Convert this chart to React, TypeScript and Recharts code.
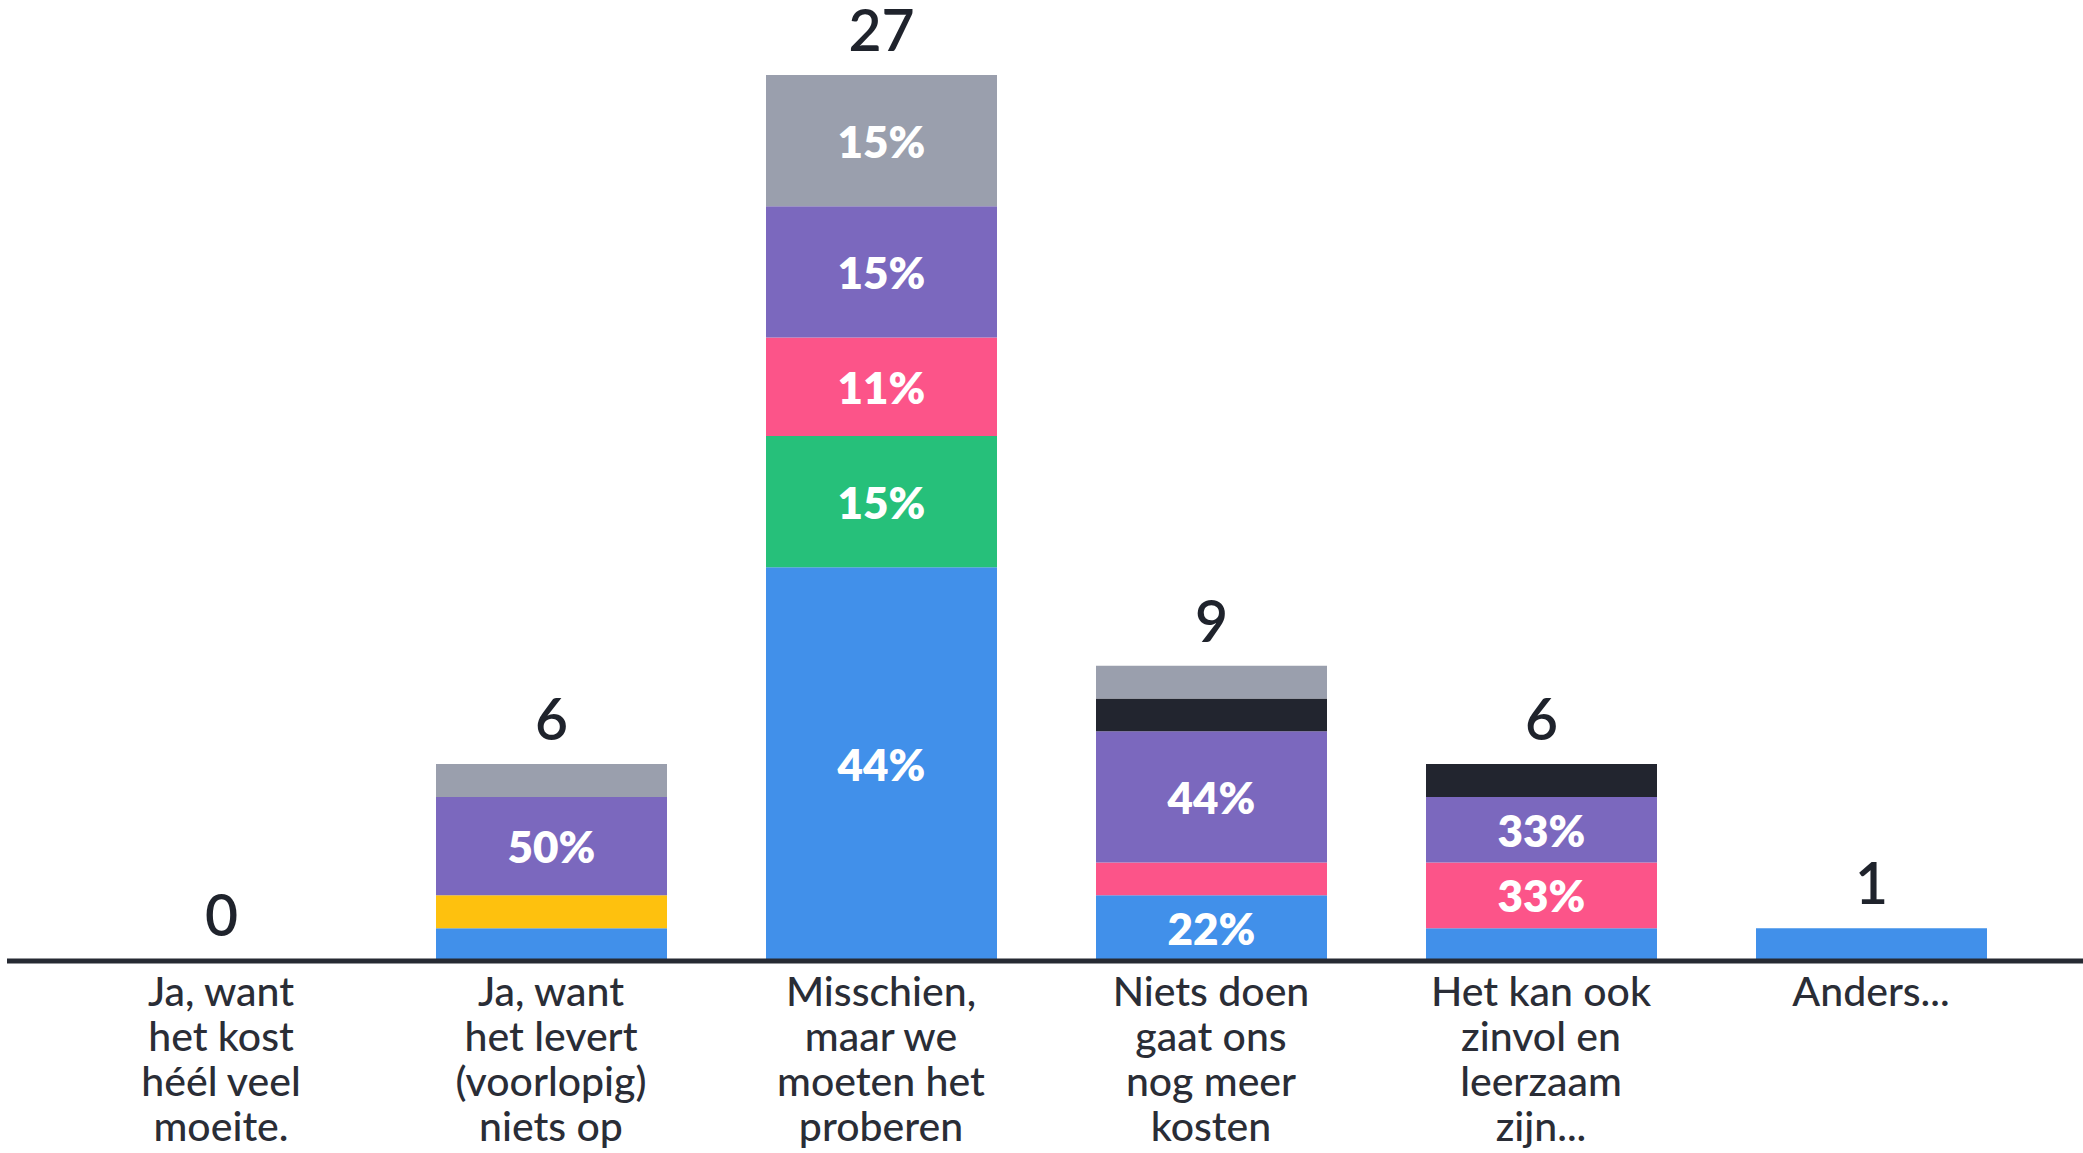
import React from 'react';
import { BarChart, Bar, XAxis, YAxis, LabelList } from 'recharts';

const categories = [
  'Ja, want het kost héél veel moeite.',
  'Ja, want het levert (voorlopig) niets op',
  'Misschien, maar we moeten het proberen',
  'Niets doen gaat ons nog meer kosten',
  'Het kan ook zinvol en leerzaam zijn...',
  'Anders...',
];

const tickLines = [
  ['Ja, want', 'het kost', 'héél veel', 'moeite.'],
  ['Ja, want', 'het levert', '(voorlopig)', 'niets op'],
  ['Misschien,', 'maar we', 'moeten het', 'proberen'],
  ['Niets doen', 'gaat ons', 'nog meer', 'kosten'],
  ['Het kan ook', 'zinvol en', 'leerzaam', 'zijn...'],
  ['Anders...'],
];

// votes per segment, bottom to top
const blue = [0, 1, 12, 2, 1, 1];
const yellow = [0, 1, 0, 0, 0, 0];
const green = [0, 0, 4, 0, 0, 0];
const pink = [0, 0, 3, 1, 2, 0];
const purple = [0, 3, 4, 4, 2, 0];
const dark = [0, 0, 0, 1, 1, 0];
const gray = [0, 1, 4, 1, 0, 0];

const series = [
  { key: 'blue', values: blue, color: '#4190EA' },
  { key: 'yellow', values: yellow, color: '#FEC10E' },
  { key: 'green', values: green, color: '#26C07A' },
  { key: 'pink', values: pink, color: '#FC5489' },
  { key: 'purple', values: purple, color: '#7B68BE' },
  { key: 'dark', values: dark, color: '#22252F' },
  { key: 'gray', values: gray, color: '#9A9FAD' },
];

const FONT = 'Lato, "Noto Sans", sans-serif';
const PAD = { left: 49, right: 47 };

const data = categories.map((name, i) => {
  const total = series.reduce((s, ser) => s + ser.values[i], 0);
  const row: Record<string, any> = { name, total };
  series.forEach((ser) => {
    const v = ser.values[i];
    row[ser.key] = v;
    // only segments of 2+ votes get a percentage label
    row[ser.key + 'Label'] = v >= 2 ? Math.round((v / total) * 100) + '%' : '';
  });
  return row;
});

const PercentLabel = (props: any) => {
  const { x, y, width, height, value } = props;
  if (!value) return null;
  return (
    <text
      x={x + width / 2}
      y={y + height / 2}
      fill="#ffffff"
      fontSize={44}
      fontWeight={800}
      fontFamily={FONT}
      textAnchor="middle"
      dominantBaseline="central"
    >
      {value}
    </text>
  );
};

const TotalLabel = (props: any) => {
  const { x, y, width, value } = props;
  return (
    <text
      x={x + width / 2}
      y={y - 24}
      fill="#1F232C"
      fontSize={57}
      fontWeight={600}
      fontFamily={FONT}
      textAnchor="middle"
    >
      {value}
    </text>
  );
};

const CategoryTick = (props: any) => {
  const { x, y, payload } = props;
  const lines = tickLines[payload.index] || [payload.value];
  return (
    <g>
      {lines.map((line, i) => (
        <text
          key={i}
          x={x}
          y={y + 37 + i * 45}
          fill="#2A2D36"
          fontSize={41}
          fontWeight={500}
          fontFamily={FONT}
          textAnchor="middle"
        >
          {line}
        </text>
      ))}
    </g>
  );
};

export default function App() {
  return (
    <div style={{ position: 'absolute', left: 0, top: 0, background: '#fff' }}>
      <BarChart
        width={2083}
        height={1153}
        data={data}
        margin={{ top: 75, right: 0, bottom: 162, left: 7 }}
        barSize={231}
      >
        <XAxis
          dataKey="name"
          interval={0}
          padding={PAD}
          axisLine={{ stroke: '#262A33', strokeWidth: 5 }}
          tickLine={false}
          tick={<CategoryTick />}
        />
        <XAxis xAxisId="totals" dataKey="name" hide padding={PAD} />
        <YAxis hide domain={[0, 27]} />
        {series.map((ser) => (
          <Bar
            key={ser.key}
            dataKey={ser.key}
            stackId="a"
            fill={ser.color}
            isAnimationActive={false}
          >
            <LabelList dataKey={ser.key + 'Label'} content={<PercentLabel />} />
          </Bar>
        ))}
        {/* invisible bar carrying the vote totals above each stack */}
        <Bar
          xAxisId="totals"
          dataKey="total"
          fill="transparent"
          minPointSize={1}
          isAnimationActive={false}
        >
          <LabelList dataKey="total" content={<TotalLabel />} />
        </Bar>
      </BarChart>
    </div>
  );
}
